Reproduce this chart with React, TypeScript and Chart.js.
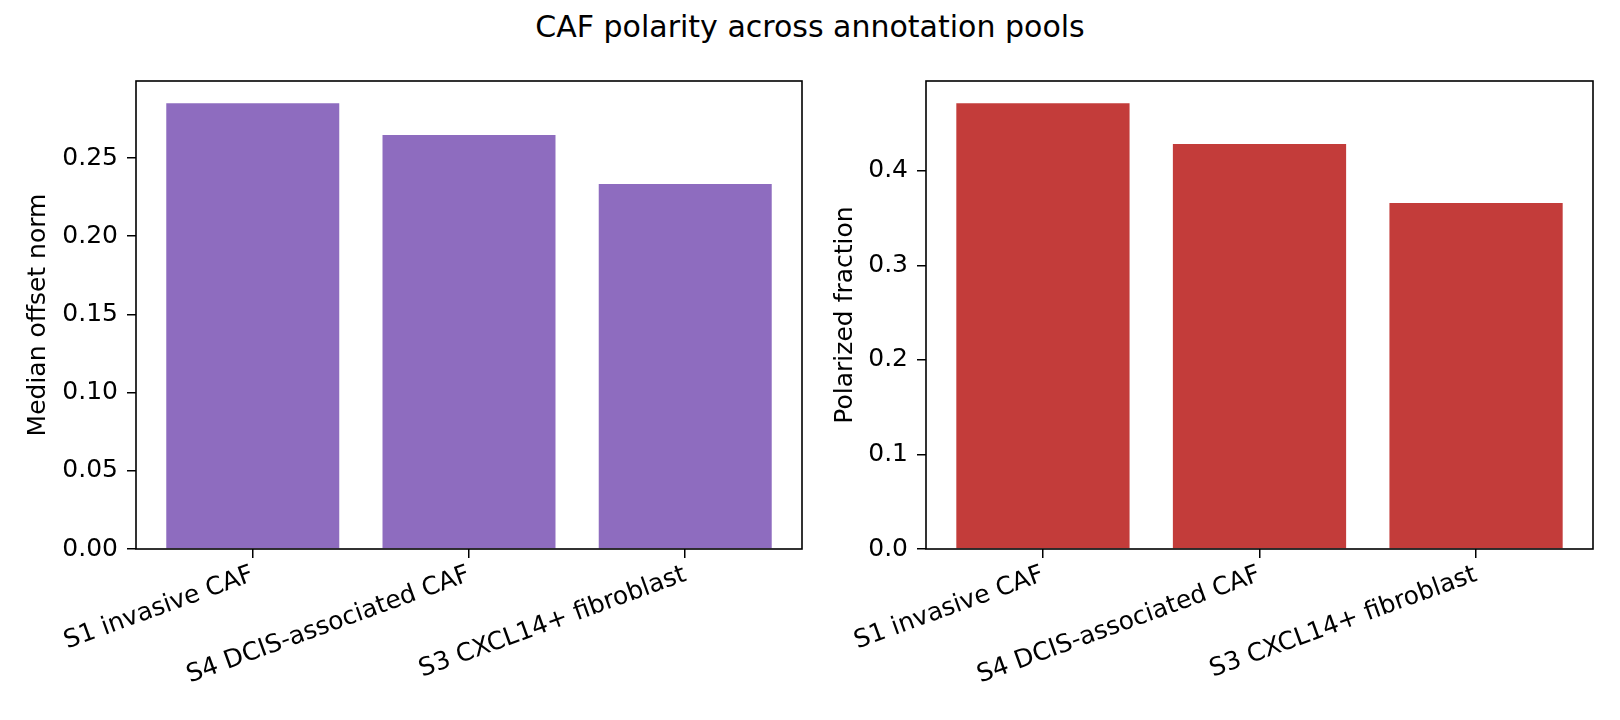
import React, { useEffect, useRef } from "react";
import { Chart, registerables } from "chart.js";

Chart.register(...registerables);

const categories = ["S1 invasive CAF", "S4 DCIS-associated CAF", "S3 CXCL14+ fibroblast"];
const medianOffsetNorm = [0.285, 0.2647, 0.2334];
const polarizedFraction = [0.4714, 0.4283, 0.366];
const leftTicks = [0, 0.05, 0.1, 0.15, 0.2, 0.25];
const rightTicks = [0, 0.1, 0.2, 0.3, 0.4];
const categoryPositions = [0, 1, 2];

const FONT = "'DejaVu Sans', 'Liberation Sans', sans-serif";

const framePlugin = {
  id: "frame",
  afterDatasetsDraw(chart: any) {
    const { ctx, chartArea } = chart;
    ctx.save();
    ctx.strokeStyle = "#000";
    ctx.lineWidth = 1.6;
    ctx.strokeRect(chartArea.left, chartArea.top, chartArea.right - chartArea.left, chartArea.bottom - chartArea.top);
    ctx.restore();
  },
};

function makeConfig(opts: {
  values: number[];
  color: string;
  yMax: number;
  yTicks: number[];
  decimals: number;
  yLabel: string;
  yAxisWidth: number;
  titlePad: number;
  padRight: number;
}) {
  return {
    type: "bar" as const,
    data: {
      datasets: [
        {
          data: opts.values.map((v, i) => ({ x: categoryPositions[i], y: v })),
          backgroundColor: opts.color,
          borderWidth: 0,
          categoryPercentage: 0.8,
          barPercentage: 1.0,
        },
      ],
    },
    options: {
      animation: false,
      responsive: false,
      maintainAspectRatio: false,
      layout: { padding: { left: 0, right: opts.padRight, top: 81, bottom: 0 } },
      plugins: { legend: { display: false }, tooltip: { enabled: false }, title: { display: false } },
      scales: {
        x: {
          type: "linear",
          min: -0.54,
          max: 2.54,
          offset: false,
          afterBuildTicks(scale: any) {
            scale.ticks = categoryPositions.map((v) => ({ value: v }));
          },
          afterFit(scale: any) {
            scale.height = 171;
          },
          grid: { display: true, offset: false, drawOnChartArea: false, drawTicks: true, tickLength: 9, color: "#000", lineWidth: 1.5 },
          border: { display: false },
          ticks: {
            autoSkip: false,
            minRotation: 20,
            maxRotation: 20,
            padding: 2,
            color: "#000",
            font: { family: FONT, size: 25 },
            callback: (v: any) => categories[Math.round(Number(v))] ?? "",
          },
        },
        y: {
          type: "linear",
          min: 0,
          max: opts.yMax,
          afterBuildTicks(scale: any) {
            scale.ticks = opts.yTicks.map((v) => ({ value: v }));
          },
          afterFit(scale: any) {
            scale.width = opts.yAxisWidth;
          },
          grid: { display: true, offset: false, drawOnChartArea: false, drawTicks: true, tickLength: 9, color: "#000", lineWidth: 1.5 },
          border: { display: false },
          ticks: {
            padding: 9,
            color: "#000",
            font: { family: FONT, size: 25 },
            callback: (v: any) => Number(v).toFixed(opts.decimals),
          },
          title: {
            display: true,
            text: opts.yLabel,
            color: "#000",
            font: { family: FONT, size: 25 },
            padding: { top: opts.titlePad, bottom: 0 },
          },
        },
      },
    },
    plugins: [framePlugin],
  };
}

function Panel(props: { config: any; left: number; width: number }) {
  const ref = useRef<HTMLCanvasElement | null>(null);
  useEffect(() => {
    if (!ref.current) return;
    const chart = new Chart(ref.current, props.config);
    return () => chart.destroy();
  }, []);
  return (
    <canvas
      ref={ref}
      width={props.width}
      height={720}
      style={{ position: "absolute", left: props.left, top: 0, width: props.width, height: 720 }}
    />
  );
}

export default function App() {
  const leftConfig = makeConfig({
    values: medianOffsetNorm,
    color: "#8e6cbf",
    yMax: 0.29925,
    yTicks: leftTicks,
    decimals: 2,
    yLabel: "Median offset norm",
    yAxisWidth: 136,
    titlePad: 23,
    padRight: 8,
  });
  const rightConfig = makeConfig({
    values: polarizedFraction,
    color: "#c33c3a",
    yMax: 0.495,
    yTicks: rightTicks,
    decimals: 1,
    yLabel: "Polarized fraction",
    yAxisWidth: 116,
    titlePad: 20,
    padRight: 27,
  });
  return (
    <div style={{ position: "absolute", left: 0, top: 0, width: 1620, height: 720, background: "#fff" }}>
      <div
        style={{
          position: "absolute",
          left: 0,
          top: 12,
          width: 1620,
          textAlign: "center",
          fontFamily: FONT,
          fontSize: 30,
          lineHeight: "30px",
          color: "#000",
        }}
      >
        CAF polarity across annotation pools
      </div>
      <Panel config={leftConfig} left={0} width={810} />
      <Panel config={rightConfig} left={810} width={810} />
    </div>
  );
}
